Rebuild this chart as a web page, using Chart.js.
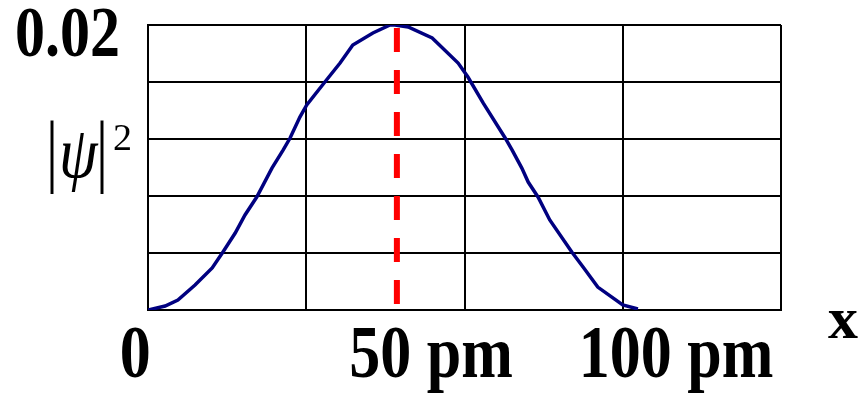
<!DOCTYPE html>
<html>
<head>
<meta charset="utf-8">
<script src="https://cdn.jsdelivr.net/npm/chart.js@4"></script>
<style>
  html, body { margin: 0; padding: 0; background: #fff; }
  canvas { display: block; }
</style>
</head>
<body>
<canvas id="chart" width="859" height="395"></canvas>
<script>
// ===== DATA =====
// position along the box (pm) and probability density |psi|^2
const xPm = [0, 3.5, 6.1, 9.6, 13.1, 15.3, 17.8, 19.8, 22.2, 25.3, 27.6, 29.0, 31.0, 32.4, 36.1, 39.2, 41.8, 45.9, 49.4, 50.4,
  53.1, 58.0, 63.3, 65.3, 68.4, 72.9, 74.3, 76.3, 77.6, 79.6, 82.0, 86.5, 88.8, 91.8, 96.9, 100];
const psi2 = [0, 0.00028, 0.0007, 0.00175, 0.00295, 0.00407, 0.0054, 0.00667, 0.00793, 0.00996, 0.01123, 0.01207, 0.01354, 0.01439, 0.016, 0.01733, 0.0186, 0.01944, 0.02, 0.02,
  0.01986, 0.01909, 0.01733, 0.01635, 0.01453, 0.01207, 0.01123, 0.00996, 0.00898, 0.00793, 0.00632, 0.00407, 0.00302, 0.00161, 0.00035, 0.00007];
const peakX = 50.8;

const xMax = 129.2;
const xGridValues = [0, 32.3, 64.6, 96.9, 129.2];
const xTickValues = [0, 50, 100];
const xTickLabels = ["0", "50 pm", "100 pm"];
const yGridValues = [0, 0.004, 0.008, 0.012, 0.016, 0.02];
const yTickLabels = ["", "", "", "", "", "0.02"];

// ===== STYLE =====
const SERIF = '"Liberation Serif", "Times New Roman", serif';
const yFont = { family: SERIF, size: 60, weight: "bold", lineHeight: 1.2 };
const xFont = { family: SERIF, size: 62, weight: "bold", lineHeight: 1.2 };
const TEXT_STRETCH = 1.2; // the source picture's lettering is taller than wide

// draw a scale's tick labels stretched vertically around pivot(scale)
function stretchLabels(scale, k, pivot) {
  if (scale._stretched) return;
  const draw = scale.drawLabels;
  scale.drawLabels = function (area) {
    const ctx = this.ctx;
    const py = pivot(this);
    ctx.save();
    ctx.translate(0, py);
    ctx.scale(1, k);
    ctx.translate(0, -py);
    draw.call(this, area);
    ctx.restore();
  };
  scale._stretched = true;
}

function tallText(ctx, text, x, y, k) {
  ctx.save();
  ctx.translate(x, y);
  ctx.scale(1, k);
  ctx.fillText(text, 0, 0);
  ctx.restore();
}

// extra text that is not a tick: |psi|^2 and the x axis name
const labelsPlugin = {
  id: "axisNames",
  afterDraw(chart) {
    const ctx = chart.ctx;
    const { left, top, right, bottom } = chart.chartArea;
    ctx.save();
    ctx.fillStyle = "#000";
    ctx.textBaseline = "alphabetic";

    // |psi|^2
    const base = top + 152;
    ctx.font = "60px " + SERIF;
    tallText(ctx, "|", left - 102, base, 1.33);
    tallText(ctx, "|", left - 52, base, 1.33);
    ctx.font = "italic 62px " + SERIF;
    tallText(ctx, "\u03C8", left - 89, base, 1.15);
    ctx.font = "38px " + SERIF;
    ctx.fillText("2", left - 35, base - 27);

    // x
    ctx.font = "bold 60px " + SERIF;
    ctx.textAlign = "center";
    ctx.fillText("x", right + 62, bottom + 28);
    ctx.restore();
  }
};

// ===== CHART =====
new Chart(document.getElementById("chart"), {
  type: "line",
  data: {
    datasets: [
      {
        data: xPm.map((x, i) => ({ x: x, y: psi2[i] })),
        borderColor: "#000080",
        borderWidth: 3.5,
        pointRadius: 0,
        tension: 0
      },
      {
        data: [{ x: peakX, y: 0.02 }, { x: peakX, y: 0 }],
        borderColor: "#ff0000",
        borderWidth: 6,
        borderDash: [24, 18],
        borderDashOffset: -3,
        pointRadius: 0
      }
    ]
  },
  options: {
    responsive: false,
    animation: false,
    devicePixelRatio: 1,
    layout: { padding: { left: 0, right: 78, top: 25, bottom: 0 } },
    plugins: { legend: { display: false }, tooltip: { enabled: false } },
    scales: {
      x: {
        type: "linear",
        position: "bottom",
        weight: 0,
        min: 0,
        max: xMax,
        afterBuildTicks: s => { s.ticks = xGridValues.map(v => ({ value: v })); },
        ticks: { display: false },
        grid: { color: "#000", lineWidth: 2, drawTicks: false },
        border: { color: "#000", width: 2 },
        afterFit: s => { s.height = 0; s.paddingLeft = 0; s.paddingRight = 0; }
      },
      xl: {
        type: "linear",
        position: "bottom",
        weight: 1,
        min: 0,
        max: xMax,
        grid: { display: false, drawTicks: false },
        border: { display: false },
        // centre each number near its value, with " pm" trailing after it
        afterBuildTicks: s => {
          const ctx = s.ctx;
          ctx.save();
          ctx.font = "bold 62px " + SERIF;
          const perUnit = s.width / (xMax - 0);
          s.ticks = xTickValues.map((v, i) => {
            const label = xTickLabels[i];
            const num = label.split(" ")[0];
            const shift = (ctx.measureText(label).width - ctx.measureText(num).width) / 2;
            return { value: v + shift / perUnit - 2.6 };
          });
          ctx.restore();
        },
        ticks: {
          autoSkip: false,
          maxRotation: 0,
          padding: 15,
          color: "#000",
          font: xFont,
          callback: (v, i) => xTickLabels[i]
        },
        afterFit: s => {
          s.height = 85;
          s.paddingLeft = 0;
          s.paddingRight = 0;
          stretchLabels(s, TEXT_STRETCH, sc => sc.top + 73);
        }
      },
      y: {
        min: 0,
        max: 0.02,
        afterBuildTicks: s => { s.ticks = yGridValues.map(v => ({ value: v })); },
        ticks: {
          autoSkip: false,
          padding: 28,
          labelOffset: 12,
          color: "#000",
          font: yFont,
          callback: (v, i) => yTickLabels[i]
        },
        grid: { color: "#000", lineWidth: 2, drawTicks: false },
        border: { color: "#000", width: 2 },
        afterFit: s => {
          s.width = 148;
          s.paddingTop = 0;
          s.paddingBottom = 0;
          stretchLabels(s, TEXT_STRETCH, sc => sc.top + 12);
        }
      }
    }
  },
  plugins: [labelsPlugin]
});
</script>
</body>
</html>
